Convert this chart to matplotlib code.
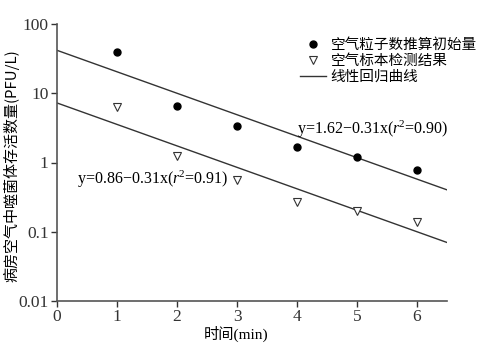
import matplotlib.pyplot as plt
import numpy as np

# values
times = [1, 2, 3, 4, 5, 6]
estimated = [40, 6.6, 3.4, 1.65, 1.22, 0.79]
measured = [6.4, 1.23, 0.55, 0.27, 0.2, 0.14]
fit_est = (1.62, -0.31)
fit_meas = (0.86, -0.31)
xticks = [0, 1, 2, 3, 4, 5, 6]
yticks = [0.01, 0.1, 1, 10, 100]
yticklabels = ['0.01', '0.1', '1', '10', '100']

num_font = 'Liberation Serif'
cjk = ['Noto Sans CJK SC', 'DejaVu Sans']
plt.rcParams['mathtext.fontset'] = 'custom'
plt.rcParams['mathtext.rm'] = 'Liberation Serif'
plt.rcParams['mathtext.it'] = 'Liberation Serif:italic'

fig = plt.figure(figsize=(4.99, 3.55), dpi=100)
ax = fig.add_axes([57 / 499, 54 / 355, 390 / 499, 277 / 355])

xs = np.linspace(0, 6.5, 50)
line, = ax.plot(xs, 10 ** (fit_est[0] + fit_est[1] * xs), color='#333333', lw=1.0)
ax.plot(xs, 10 ** (fit_meas[0] + fit_meas[1] * xs), color='#333333', lw=1.0)
p1, = ax.plot(times, estimated, 'o', color='black', ms=5, ls='none')
p2, = ax.plot(times, measured, 'v', mfc='white', mec='#333333', mew=0.8, ms=6, ls='none')

ax.set_yscale('log')
ax.set_xlim(0, 6.5)
ax.set_ylim(0.01, 100)
ax.set_xticks(xticks)
ax.set_xticklabels([str(t) for t in xticks], fontfamily=num_font, fontsize=12.5)
ax.set_yticks(yticks)
ax.set_yticklabels(yticklabels, fontfamily=num_font, fontsize=12.5)
ax.minorticks_off()
ax.tick_params(direction='out', length=4, width=1, colors='#333333', pad=2)
for s in ['top', 'right']:
    ax.spines[s].set_visible(False)
for s in ['left', 'bottom']:
    ax.spines[s].set_color('#555555')
    ax.spines[s].set_linewidth(1.2)

ax.set_xlabel('时间(min)', family=[num_font] + cjk, fontsize=11)
ax.xaxis.set_label_coords(0.46, -0.09)
ax.set_ylabel('病房空气中噬菌体存活数量(PFU/L)', family=cjk[:1] + [num_font], fontsize=10.8)
ax.yaxis.set_label_coords(-0.095, 0.49)

ax.text(4.0, 3.0, 'y=1.62−0.31x($\\it{r}$$^2$=0.90)', fontfamily=num_font, fontsize=11.5,
        ha='left', va='center')
ax.text(0.33, 0.57, 'y=0.86−0.31x($\\it{r}$$^2$=0.91)', fontfamily=num_font, fontsize=11.5,
        ha='left', va='center')

leg = ax.legend([p1, p2, line], ['空气粒子数推算初始量', '空气标本检测结果', '线性回归曲线'],
                prop={'family': cjk, 'size': 10.5}, frameon=False,
                loc='upper left', bbox_to_anchor=(0.6, 0.98), handlelength=1.8,
                handletextpad=0.3, labelspacing=0.12, borderaxespad=0.2)

fig.savefig('out.png', dpi=100)
